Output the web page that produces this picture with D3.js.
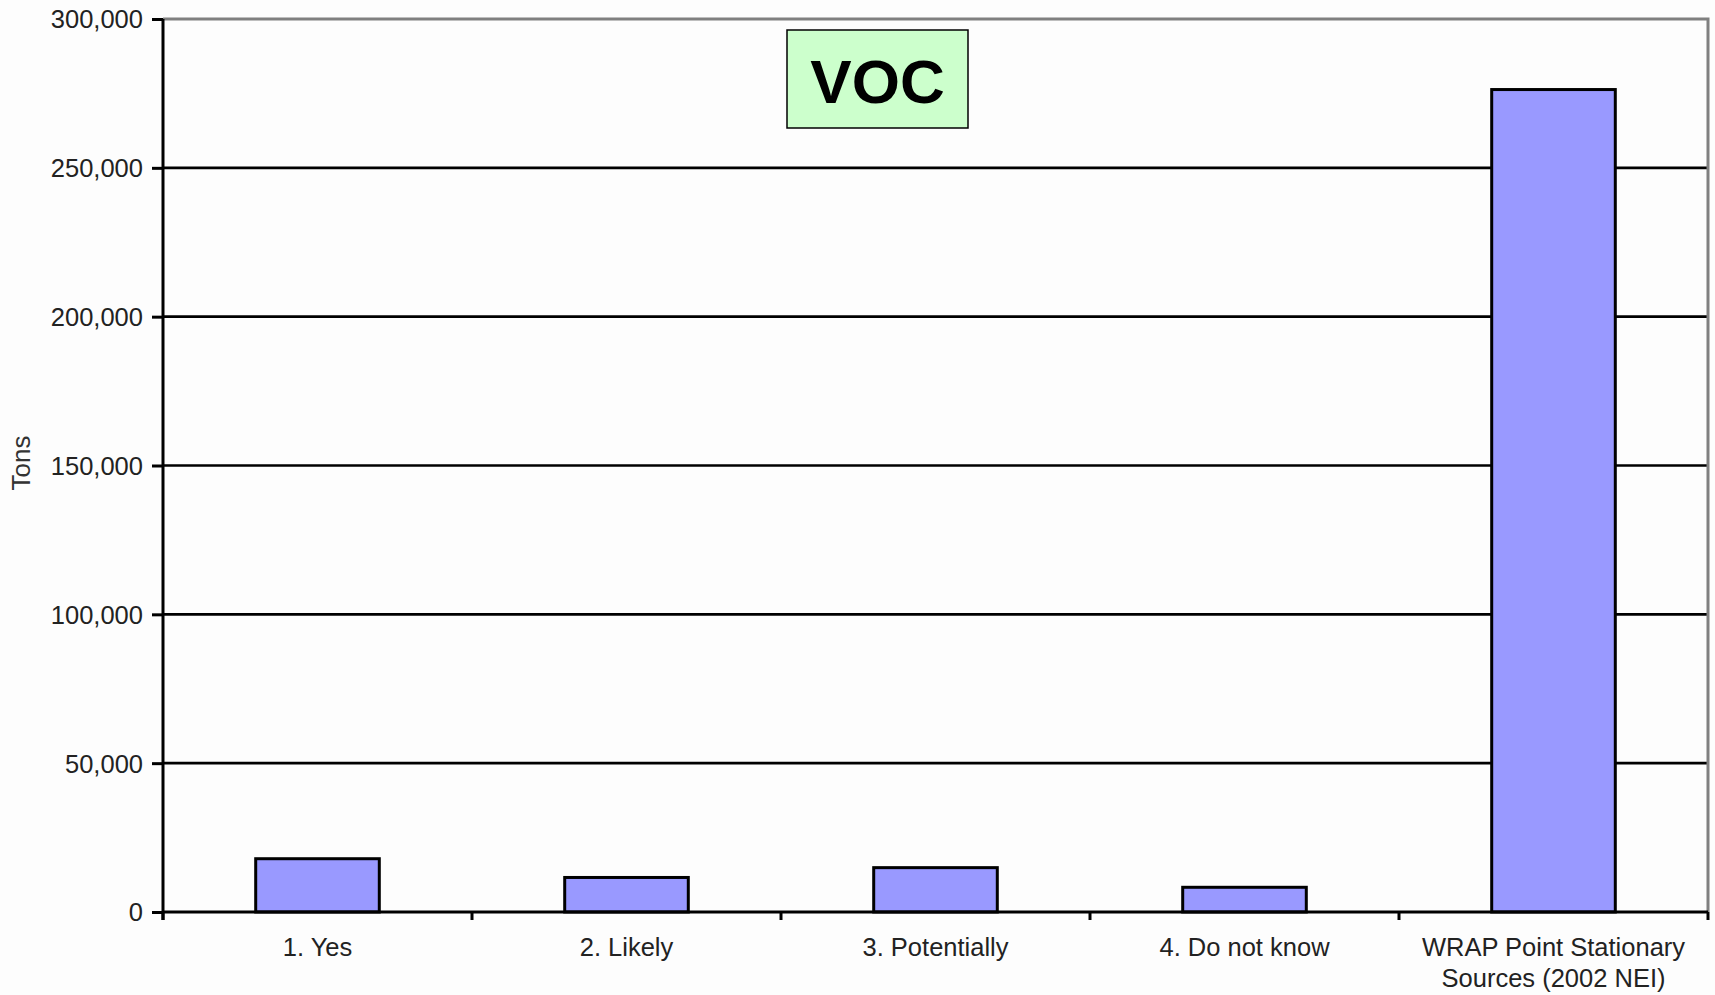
<!DOCTYPE html>
<html>
<head>
<meta charset="utf-8">
<script src="https://cdn.jsdelivr.net/npm/d3@7"></script>
<style>
  body { margin: 0; background: #fdfdfd; }
  svg { display: block; font-family: Arial, "Liberation Sans", sans-serif; }
</style>
</head>
<body>
<svg id="chart" width="1715" height="995"></svg>
<script>
// chart values
const categories = ['1. Yes', '2. Likely', '3. Potentially', '4. Do not know', 'WRAP Point Stationary\nSources (2002 NEI)'];
const tons = [17900, 11600, 14900, 8300, 276300];
const yTicks = [0, 50000, 100000, 150000, 200000, 250000, 300000];
const title = 'VOC';
const yLabel = 'Tons';

const width = 1715, height = 995;
const margin = { top: 19, right: 7, bottom: 83, left: 163 };
const svg = d3.select('#chart');
const g = svg.append('g').attr('transform', `translate(${margin.left},${margin.top})`);
const w = width - margin.left - margin.right;
const h = height - margin.top - margin.bottom;

const data = categories.map((c, i) => ({ cat: c, value: tons[i] }));

// one band per category, bars sit in the middle 40%
const xCat = d3.scaleBand().domain(categories).range([0, w]).padding(0);
const x = d3.scaleBand().domain(categories).range([0, w]).paddingInner(0.6).paddingOuter(0.3);
const y = d3.scaleLinear().domain([0, 300000]).range([h, 0]);

// gridlines
g.selectAll('.grid')
  .data(yTicks.filter(t => t > 0 && t < 300000))
  .enter().append('line')
  .attr('x1', 0).attr('x2', w)
  .attr('y1', d => y(d)).attr('y2', d => y(d))
  .attr('stroke', '#000').attr('stroke-width', 2.7);

// grey frame top and right
g.append('path')
  .attr('d', `M0,${y(300000)}H${w}V${h}`)
  .attr('fill', 'none').attr('stroke', '#808080').attr('stroke-width', 3);

// bars
g.selectAll('.bar')
  .data(data)
  .enter().append('rect')
  .attr('x', d => x(d.cat))
  .attr('y', d => y(d.value))
  .attr('width', x.bandwidth())
  .attr('height', d => h - y(d.value))
  .attr('fill', '#9999ff')
  .attr('stroke', '#000')
  .attr('stroke-width', 3);

// y axis
const yAxis = g.append('g')
  .call(d3.axisLeft(y).tickValues(yTicks).tickSize(11).tickPadding(9).tickFormat(d3.format(',')));
yAxis.select('.domain').remove();
yAxis.selectAll('.tick line').attr('stroke', '#000').attr('stroke-width', 3);
yAxis.selectAll('.tick text').attr('font-size', 25.5).attr('fill', '#222').attr('dy', '0.35em');
g.append('line')
  .attr('x1', 0).attr('x2', 0).attr('y1', 0).attr('y2', h + 8)
  .attr('stroke', '#000').attr('stroke-width', 3);

// x axis
g.append('line')
  .attr('x1', 0).attr('x2', w).attr('y1', h).attr('y2', h)
  .attr('stroke', '#000').attr('stroke-width', 3);
const bounds = categories.map(c => xCat(c)).concat([w]);
g.selectAll('.xtick')
  .data(bounds)
  .enter().append('line')
  .attr('x1', d => d).attr('x2', d => d)
  .attr('y1', h).attr('y2', h + 8)
  .attr('stroke', '#000').attr('stroke-width', 3);

const xAxis = g.append('g')
  .attr('transform', `translate(0,${h})`)
  .call(d3.axisBottom(xCat).tickSize(0).tickFormat(''));
xAxis.select('.domain').remove();
xAxis.selectAll('.tick').each(function(d) {
  const t = d3.select(this).append('text')
    .attr('text-anchor', 'middle')
    .attr('font-size', 25.5)
    .attr('fill', '#222');
  d.split('\n').forEach((line, i) => {
    t.append('tspan').attr('x', 0).attr('y', 44 + i * 31).text(line);
  });
});

// y label
svg.append('text')
  .attr('transform', `translate(30,463) rotate(-90)`)
  .attr('text-anchor', 'middle')
  .attr('font-size', 26)
  .attr('fill', '#333')
  .text(yLabel);

// title box
const tb = svg.append('g').attr('transform', 'translate(787,30)');
tb.append('rect')
  .attr('width', 181).attr('height', 98)
  .attr('fill', '#ccffcc').attr('stroke', '#000').attr('stroke-width', 1.5);
tb.append('text')
  .attr('x', 90.5).attr('y', 73)
  .attr('text-anchor', 'middle')
  .attr('font-size', 62).attr('font-weight', 'bold')
  .attr('fill', '#000')
  .text(title);
</script>
</body>
</html>
